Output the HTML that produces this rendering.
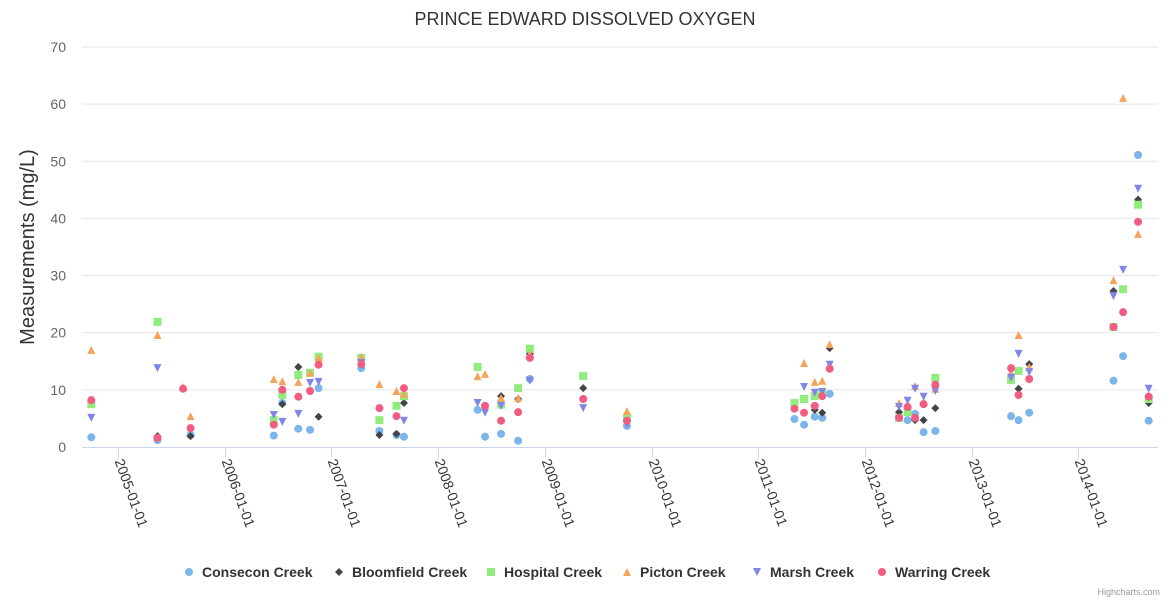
<!DOCTYPE html>
<html><head><meta charset="utf-8"><style>
body{margin:0;background:#fff;font-family:"Liberation Sans",sans-serif}
svg text{font-family:"Liberation Sans",sans-serif}
</style></head><body>
<svg id="chart" width="1170" height="600" xmlns="http://www.w3.org/2000/svg">
<text x="585" y="25" text-anchor="middle" font-size="18" fill="#333">PRINCE EDWARD DISSOLVED OXYGEN</text>
<text transform="translate(34,247) rotate(-90)" text-anchor="middle" font-size="20" fill="#333">Measurements (mg/L)</text>
<g id="grid"></g><g id="xaxis"></g><g id="marks"></g><g id="legend"></g>
<text x="1160" y="595" text-anchor="end" font-size="9" fill="#999">Highcharts.com</text>
</svg>
<script>
const yTicks=[0,10,20,30,40,50,60,70];
const xTickYears=[2005,2006,2007,2008,2009,2010,2011,2012,2013,2014];
const xTickLabels=["2005-01-01","2006-01-01","2007-01-01","2008-01-01","2009-01-01","2010-01-01","2011-01-01","2012-01-01","2013-01-01","2014-01-01"];
const seriesNames=["Consecon Creek","Bloomfield Creek","Hospital Creek","Picton Creek","Marsh Creek","Warring Creek"];
const consaconX=[2004.75,2005.37,2005.68,2006.46,2006.54,2006.69,2006.80,2006.88,2007.28,2007.45,2007.61,2007.68,2008.37,2008.44,2008.59,2008.75,2008.86,2009.77,2011.34,2011.43,2011.53,2011.60,2011.67,2012.40,2012.47,2012.55,2012.66,2013.37,2013.44,2013.54,2014.33,2014.42,2014.56,2014.66];
const consaconY=[1.7,1.2,2.1,2,7.7,3.2,3,10.3,13.8,2.8,2.1,1.8,6.5,1.8,2.3,1.1,11.9,3.7,4.9,3.9,5.3,5.1,9.3,4.7,5.8,2.6,2.8,5.4,4.7,6,11.6,15.9,51.1,4.6];
const bloomX=[2005.37,2005.68,2006.54,2006.69,2006.88,2007.45,2007.61,2007.68,2008.59,2008.75,2008.86,2009.36,2009.77,2011.53,2011.60,2011.67,2012.32,2012.47,2012.55,2012.66,2013.44,2013.54,2014.33,2014.56,2014.66];
const bloomY=[1.9,1.9,7.5,14,5.3,2.1,2.3,7.7,8.9,8.4,16.3,10.3,5.6,6.5,6,17.3,6.1,4.7,4.7,6.8,10.2,14.5,27.3,43.3,7.7];
const hospX=[2004.75,2005.37,2006.46,2006.54,2006.69,2006.80,2006.88,2007.28,2007.45,2007.61,2007.68,2008.37,2008.59,2008.75,2008.86,2009.36,2009.77,2011.34,2011.43,2011.53,2011.60,2012.32,2012.40,2012.66,2013.37,2013.44,2014.33,2014.42,2014.56,2014.66];
const hospY=[7.5,21.9,4.7,9.1,12.6,13,15.8,15.6,4.7,7.2,8.9,14,7.4,10.3,17.2,12.4,5.1,7.7,8.4,8.9,9.6,5.1,6.1,12.1,11.7,13.3,21,27.6,42.4,8.4];
const pictonX=[2004.75,2005.37,2005.61,2005.68,2006.46,2006.54,2006.69,2006.80,2006.88,2007.28,2007.45,2007.61,2007.68,2008.37,2008.44,2008.59,2008.75,2008.86,2009.77,2011.43,2011.53,2011.60,2011.67,2012.32,2012.47,2012.55,2012.66,2013.37,2013.44,2013.54,2014.33,2014.42,2014.56,2014.66];
const pictonY=[17,19.6,10.5,5.4,11.9,11.5,11.4,13,15.6,15.8,11,9.8,9.3,12.4,12.8,8.6,8.6,16.3,6.3,14.7,11.4,11.6,18,7.7,10.7,7.9,10.2,13,19.6,14,29.2,61.1,37.3,9.1];
const marshX=[2004.75,2005.37,2006.46,2006.54,2006.69,2006.80,2006.88,2007.28,2007.68,2008.37,2008.44,2008.59,2008.86,2009.36,2009.77,2011.43,2011.53,2011.60,2011.67,2012.32,2012.40,2012.47,2012.55,2012.66,2013.37,2013.44,2013.54,2014.33,2014.42,2014.56,2014.66];
const marshY=[5.1,13.8,5.6,4.4,5.8,11.2,11.4,14.7,4.6,7.7,6,7.2,11.6,6.8,3.9,10.5,9.5,9.6,14.4,7,8.1,10.2,8.8,9.8,12.1,16.3,13.1,26.4,31,45.2,10.2];
const warringX=[2004.75,2005.37,2005.61,2005.68,2006.46,2006.54,2006.69,2006.80,2006.88,2007.28,2007.45,2007.61,2007.68,2008.44,2008.59,2008.75,2008.86,2009.36,2009.77,2011.34,2011.43,2011.53,2011.60,2011.67,2012.32,2012.40,2012.47,2012.55,2012.66,2013.37,2013.44,2013.54,2014.33,2014.42,2014.56,2014.66];
const warringY=[8.2,1.6,10.2,3.3,3.9,10,8.8,9.8,14.4,14.5,6.8,5.4,10.3,7.2,4.6,6.1,15.6,8.4,4.6,6.7,6,7.2,8.9,13.7,5.1,7,5.1,7.5,10.9,13.8,9.1,11.9,21,23.6,39.4,8.8];

const NS="http://www.w3.org/2000/svg";
const xs=yr=>118+(yr-2005)*106.7;
const ys=v=>447-v*(400/70);
function mk(t,a,p){const e=document.createElementNS(NS,t);for(const k in a)e.setAttribute(k,a[k]);p.appendChild(e);return e;}
const grid=document.getElementById('grid'),xa=document.getElementById('xaxis'),marks=document.getElementById('marks'),leg=document.getElementById('legend');
yTicks.forEach(v=>{
  if(v>0){const l=mk('line',{x1:82,x2:1158,y1:ys(v),y2:ys(v),stroke:'#e6e6e6'},grid);
  
  }
  const t=mk('text',{x:66,y:ys(v)+5,'text-anchor':'end','font-size':14,fill:'#666'},grid);t.textContent=v;
  
  
});
const al=mk('line',{x1:82,x2:1158,y1:447.5,y2:447.5,stroke:'#ccd6eb'},xa);


xTickYears.forEach((yr,i)=>{
  const x=Math.round(xs(yr))+0.5;
  const tk=mk('line',{x1:x,x2:x,y1:447,y2:457,stroke:'#ccd6eb'},xa);
  
  
  const t=mk('text',{transform:`translate(${x-4},${461}) rotate(70)`,'font-size':14,fill:'#333'},xa);
  t.textContent=xTickLabels[i];
  
  
});
const colors=['#7cb5ec','#434348','#90ed7d','#f7a35c','#8085e9','#f15c80'];
const symbols=['circle','diamond','square','triangle','triangle-down','circle'];
const XS=[consaconX,bloomX,hospX,pictonX,marshX,warringX],YS=[consaconY,bloomY,hospY,pictonY,marshY,warringY];
function sym(s,cx,cy,c,p){
  if(s==='circle')return mk('circle',{cx,cy,r:4,fill:c},p);
  if(s==='square')return mk('rect',{x:cx-4,y:cy-4,width:8,height:8,fill:c},p);
  let pts;
  if(s==='diamond')pts=[[cx,cy-4],[cx+4,cy],[cx,cy+4],[cx-4,cy]];
  else if(s==='triangle')pts=[[cx,cy-4],[cx+4,cy+4],[cx-4,cy+4]];
  else pts=[[cx-4,cy-4],[cx+4,cy-4],[cx,cy+4]];
  return mk('polygon',{points:pts.map(q=>q.join(',')).join(' '),fill:c},p);
}
XS.forEach((xarr,si)=>{
  const g=mk('g',{},marks);
  
  
  xarr.forEach((x,i)=>{
    const e=sym(symbols[si],xs(x),ys(YS[si][i]),colors[si],g);
    
    
  });
});
const legX=[189,339,491,627,757,882];
seriesNames.forEach((n,i)=>{
  const g=mk('g',{},leg);
  
  
  sym(symbols[i],legX[i],572,colors[i],g);
  const t=mk('text',{x:legX[i]+13,y:577,'font-size':14,'font-weight':'bold',fill:'#333'},g);
  t.textContent=n;
});
</script>
</body></html>
